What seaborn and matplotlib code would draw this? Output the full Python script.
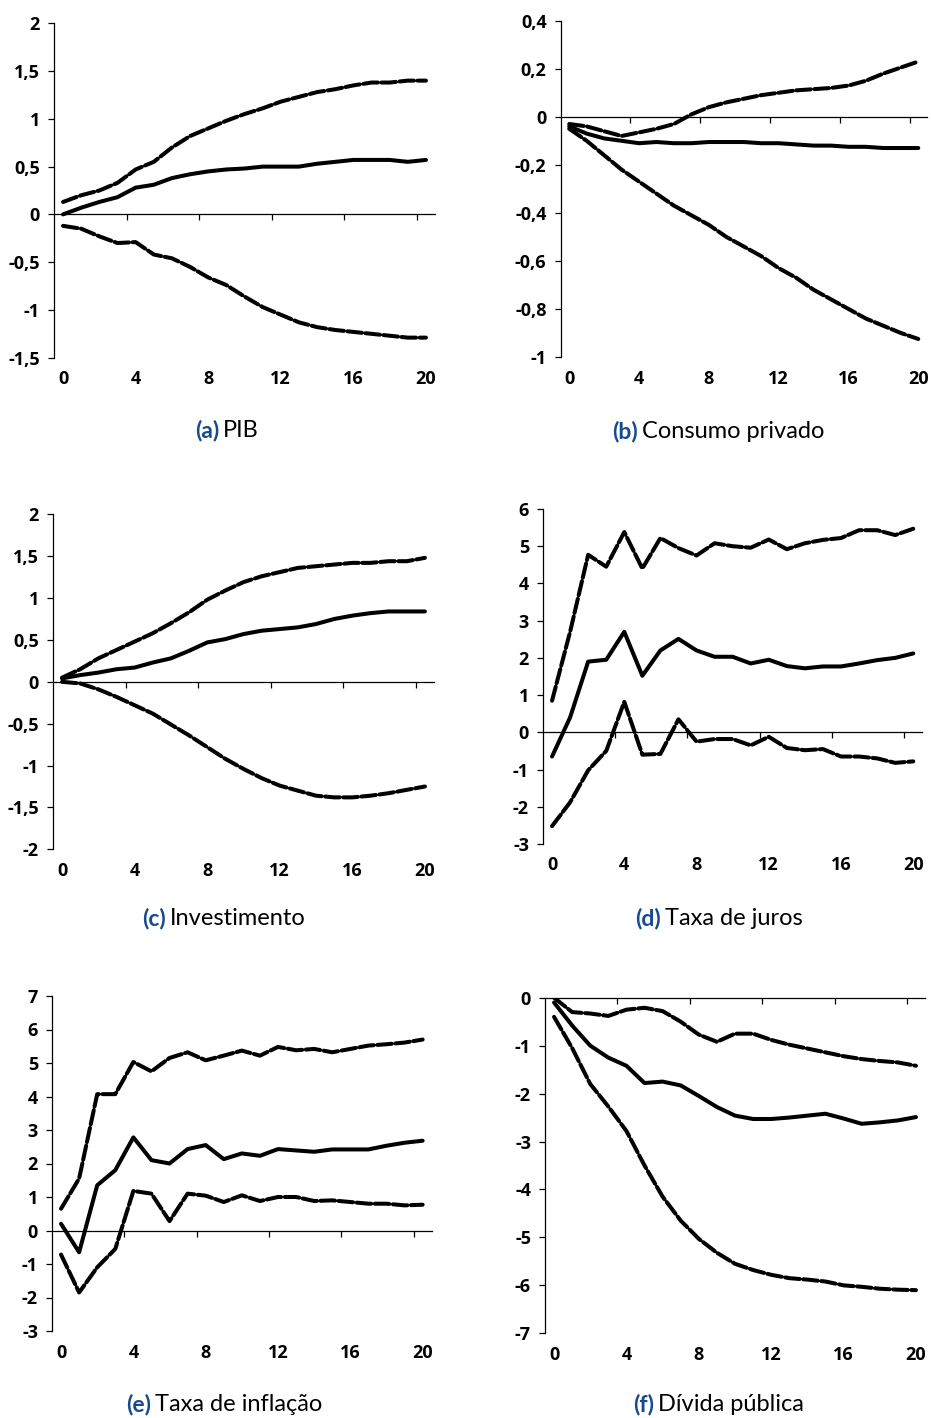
import matplotlib
matplotlib.use("Agg")
import matplotlib.pyplot as plt
import numpy as np
import pandas as pd
import seaborn as sns

sns.set_theme(style="white")
plt.rcParams["font.family"] = ["Open Sans", "DejaVu Sans"]
plt.rcParams["axes.unicode_minus"] = False

# ---------------- data ----------------
horizons = list(range(21))

pib_upper = [0.13, 0.20, 0.25, 0.33, 0.47, 0.55, 0.70, 0.82, 0.90, 0.98, 1.05,
             1.11, 1.18, 1.23, 1.28, 1.31, 1.35, 1.38, 1.38, 1.40, 1.40]
pib_mid = [0.00, 0.07, 0.13, 0.18, 0.28, 0.31, 0.38, 0.42, 0.45, 0.47, 0.48,
           0.50, 0.50, 0.50, 0.53, 0.55, 0.57, 0.57, 0.57, 0.55, 0.57]
pib_lower = [-0.12, -0.15, -0.23, -0.30, -0.29, -0.42, -0.46, -0.55, -0.66, -0.74, -0.86,
             -0.97, -1.05, -1.13, -1.18, -1.21, -1.23, -1.25, -1.27, -1.29, -1.29]

cons_upper = [-0.03, -0.04, -0.06, -0.08, -0.065, -0.05, -0.03, 0.01, 0.04, 0.06, 0.075,
              0.09, 0.10, 0.11, 0.115, 0.12, 0.13, 0.15, 0.18, 0.205, 0.23]
cons_mid = [-0.04, -0.07, -0.09, -0.10, -0.11, -0.105, -0.11, -0.11, -0.105, -0.105, -0.105,
            -0.11, -0.11, -0.115, -0.12, -0.12, -0.125, -0.125, -0.13, -0.13, -0.13]
cons_lower = [-0.05, -0.10, -0.16, -0.22, -0.27, -0.32, -0.37, -0.41, -0.45, -0.50, -0.54,
              -0.58, -0.63, -0.67, -0.72, -0.76, -0.80, -0.84, -0.87, -0.90, -0.925]

inv_upper = [0.05, 0.15, 0.28, 0.38, 0.48, 0.58, 0.70, 0.83, 0.98, 1.09, 1.19,
             1.26, 1.31, 1.36, 1.38, 1.40, 1.42, 1.42, 1.44, 1.44, 1.48]
inv_mid = [0.04, 0.08, 0.11, 0.15, 0.17, 0.23, 0.28, 0.37, 0.47, 0.51, 0.57,
           0.61, 0.63, 0.65, 0.69, 0.75, 0.79, 0.82, 0.84, 0.84, 0.84]
inv_lower = [0.00, -0.02, -0.09, -0.18, -0.28, -0.38, -0.51, -0.64, -0.78, -0.92, -1.04,
             -1.15, -1.24, -1.30, -1.36, -1.38, -1.38, -1.36, -1.33, -1.29, -1.25]

juros_upper = [0.85, 2.70, 4.77, 4.45, 5.38, 4.40, 5.22, 4.95, 4.75, 5.08, 5.00,
               4.96, 5.18, 4.92, 5.08, 5.17, 5.22, 5.43, 5.43, 5.30, 5.47]
juros_mid = [-0.65, 0.40, 1.90, 1.95, 2.70, 1.52, 2.20, 2.51, 2.20, 2.03, 2.03,
             1.85, 1.95, 1.78, 1.72, 1.77, 1.77, 1.85, 1.94, 2.00, 2.12]
juros_lower = [-2.52, -1.88, -1.02, -0.50, 0.82, -0.60, -0.58, 0.35, -0.25, -0.18, -0.18,
               -0.35, -0.12, -0.42, -0.48, -0.45, -0.65, -0.65, -0.70, -0.82, -0.78]

infl_upper = [0.65, 1.55, 4.07, 4.07, 5.03, 4.75, 5.15, 5.32, 5.08, 5.22, 5.37,
              5.22, 5.48, 5.38, 5.42, 5.32, 5.42, 5.52, 5.56, 5.61, 5.70]
infl_mid = [0.20, -0.65, 1.35, 1.80, 2.78, 2.10, 2.00, 2.43, 2.55, 2.13, 2.30,
            2.23, 2.43, 2.39, 2.35, 2.42, 2.42, 2.42, 2.53, 2.62, 2.68]
infl_lower = [-0.72, -1.85, -1.10, -0.55, 1.18, 1.10, 0.28, 1.10, 1.04, 0.85, 1.05,
              0.88, 1.00, 1.00, 0.88, 0.90, 0.85, 0.80, 0.80, 0.75, 0.77]

div_upper = [0.00, -0.30, -0.33, -0.38, -0.25, -0.21, -0.28, -0.50, -0.77, -0.92, -0.75,
             -0.75, -0.88, -0.98, -1.06, -1.14, -1.22, -1.28, -1.32, -1.35, -1.42]
div_mid = [-0.10, -0.58, -1.00, -1.25, -1.42, -1.78, -1.75, -1.83, -2.05, -2.28, -2.46,
           -2.53, -2.53, -2.50, -2.46, -2.42, -2.52, -2.63, -2.60, -2.56, -2.49]
div_lower = [-0.40, -1.05, -1.80, -2.27, -2.78, -3.50, -4.15, -4.65, -5.03, -5.32, -5.55,
             -5.68, -5.78, -5.85, -5.88, -5.92, -6.00, -6.03, -6.07, -6.09, -6.10]

x_tick_labels = ["0", "4", "8", "12", "16", "20"]

panel_letters = ["(a)", "(b)", "(c)", "(d)", "(e)", "(f)"]
panel_titles = ["PIB", "Consumo privado", "Investimento", "Taxa de juros",
                "Taxa de inflação", "Dívida pública"]

# ---------------- layout ----------------
W, H = 931, 1418
fig = plt.figure(figsize=(W / 100, H / 100), dpi=100)

panels = [
    dict(series=(pib_upper, pib_mid, pib_lower), ylim=(-1.5, 2), step=0.5,
         rect=(54, 23.3, 435, 357.7), cap=(219, 223, 437)),
    dict(series=(cons_upper, cons_mid, cons_lower), ylim=(-1, 0.4), step=0.2,
         rect=(560.5, 20.7, 927, 357), cap=(638, 642, 438)),
    dict(series=(inv_upper, inv_mid, inv_lower), ylim=(-2, 2), step=0.5,
         rect=(53, 514.3, 434, 849.3), cap=(166, 170, 925)),
    dict(series=(juros_upper, juros_mid, juros_lower), ylim=(-3, 6), step=1,
         rect=(543, 509, 922.3, 844), cap=(661, 665, 925)),
    dict(series=(infl_upper, infl_mid, infl_lower), ylim=(-3, 7), step=1,
         rect=(52, 996, 431.7, 1331), cap=(151, 155, 1411)),
    dict(series=(div_upper, div_mid, div_lower), ylim=(-7, 0), step=1,
         rect=(545, 997.7, 925, 1333.3), cap=(654, 658, 1411)),
]


def fmt(v):
    s = f"{v:.1f}".rstrip("0").rstrip(".")
    if s == "-0":
        s = "0"
    return s.replace(".", ",")


for i, p in enumerate(panels):
    x0, y0, x1, y1 = p["rect"]
    ax = fig.add_axes([x0 / W, 1 - y1 / H, (x1 - x0) / W, (y1 - y0) / H])
    up, mid, lo = p["series"]
    df = pd.DataFrame({
        "h": horizons * 3,
        "v": list(up) + list(mid) + list(lo),
        "band": ["upper"] * 21 + ["mid"] * 21 + ["lower"] * 21,
    })
    sns.lineplot(data=df, x="h", y="v", style="band",
                 dashes={"upper": (3.6, 0.9), "mid": "", "lower": (3.6, 0.9)},
                 color="black", linewidth=2.9, legend=False, ax=ax,
                 estimator=None, sort=False)
    for ln in ax.get_lines():
        ln.set_dash_capstyle("round")
        ln.set_solid_capstyle("round")

    ymin, ymax = p["ylim"]
    ax.set_xlim(-0.5, 20.5)
    ax.set_ylim(ymin, ymax)
    yt = np.round(np.arange(ymin, ymax + p["step"] / 2, p["step"]), 4)
    ax.set_yticks(yt)
    ax.set_yticklabels([fmt(v) for v in yt])
    ax.set_xticks([0, 4, 8, 12, 16, 20])
    ax.set_xticklabels(x_tick_labels)
    ax.set_xlabel("")
    ax.set_ylabel("")

    for s in ("top", "right", "bottom"):
        ax.spines[s].set_visible(False)
    ax.spines["left"].set_color("black")
    ax.spines["left"].set_linewidth(0.9)
    ax.tick_params(axis="x", length=0, pad=9, labelsize=13)
    ax.tick_params(axis="y", direction="out", length=4, width=0.9, color="black",
                   pad=6, labelsize=13, left=True)
    for lab in ax.get_xticklabels() + ax.get_yticklabels():
        lab.set_fontweight("bold")
        lab.set_color("black")

    # zero line with tick marks between category groups
    pos = (0 - ymin) / (ymax - ymin)
    sec = ax.secondary_xaxis(pos)
    sec.set_alignment("bottom")
    sec.set_xticks([3.5, 7.5, 11.5, 15.5, 19.5])
    sec.set_xticklabels([])
    sec.tick_params(axis="x", direction="out", length=4, width=0.9, color="black")
    sec.spines["bottom"].set_linewidth(0.9)
    sec.spines["bottom"].set_color("black")

    # caption
    xs_r, xs_l, yb = p["cap"]
    fig.text(xs_r / W, 1 - yb / H, panel_letters[i], ha="right", va="baseline",
             fontsize=16.5, fontweight="bold", color="#174b8c", family=["Lato", "DejaVu Sans"])
    fig.text(xs_l / W, 1 - yb / H, panel_titles[i], ha="left", va="baseline",
             fontsize=17, color="black", family=["Lato", "DejaVu Sans"])

fig.savefig("out.png", dpi=100)
